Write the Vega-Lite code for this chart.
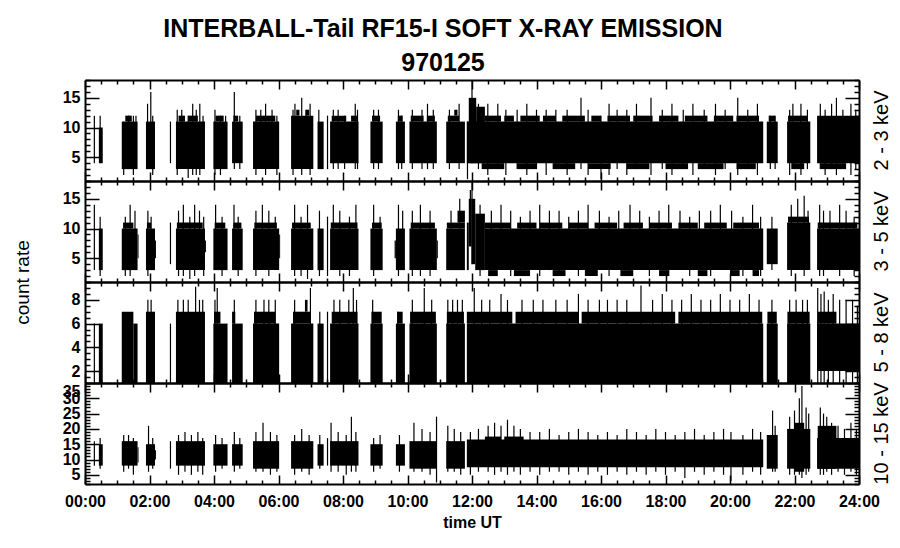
{
"$schema":"https://vega.github.io/schema/vega-lite/v6.json",
"background":"white",
"padding":{"left":13,"top":17,"right":5,"bottom":5},
"title":{"text":["INTERBALL-Tail RF15-I SOFT X-RAY EMISSION","970125"],"font":"Liberation Sans","fontSize":25,"fontWeight":"bold","color":"black","lineHeight":34,"anchor":"middle","frame":"bounds","offset":3,"dx":-9},
"datasets":{
"rects":[
{"p":1,"a":0.43,"b":0.55,"lo":4,"hi":10},
{"p":1,"a":1.14,"b":1.63,"lo":3,"hi":11},
{"p":1,"a":1.25,"b":1.45,"lo":11,"hi":12},
{"p":1,"a":1.89,"b":2.17,"lo":3,"hi":11},
{"p":1,"a":2.82,"b":3.72,"lo":3,"hi":11},
{"p":1,"a":2.9,"b":3.1,"lo":11,"hi":12},
{"p":1,"a":3.2,"b":3.5,"lo":11,"hi":12},
{"p":1,"a":3.98,"b":4.42,"lo":3,"hi":11},
{"p":1,"a":4.05,"b":4.3,"lo":11,"hi":12},
{"p":1,"a":4.56,"b":4.89,"lo":4,"hi":11},
{"p":1,"a":4.6,"b":4.75,"lo":11,"hi":12},
{"p":1,"a":5.21,"b":6.02,"lo":3,"hi":11},
{"p":1,"a":5.3,"b":5.9,"lo":11,"hi":12},
{"p":1,"a":6.39,"b":7.08,"lo":3,"hi":12},
{"p":1,"a":6.55,"b":6.65,"lo":12,"hi":13},
{"p":1,"a":6.85,"b":6.95,"lo":12,"hi":13},
{"p":1,"a":7.21,"b":7.4,"lo":3,"hi":11},
{"p":1,"a":7.6,"b":8.48,"lo":4,"hi":11},
{"p":1,"a":7.65,"b":8.1,"lo":11,"hi":12},
{"p":1,"a":8.25,"b":8.45,"lo":11,"hi":12},
{"p":1,"a":8.85,"b":9.23,"lo":4,"hi":11},
{"p":1,"a":8.9,"b":9.15,"lo":11,"hi":12},
{"p":1,"a":9.64,"b":9.92,"lo":4,"hi":11},
{"p":1,"a":9.7,"b":9.85,"lo":11,"hi":12},
{"p":1,"a":10.06,"b":10.91,"lo":4,"hi":11},
{"p":1,"a":10.1,"b":10.5,"lo":11,"hi":12},
{"p":1,"a":10.6,"b":10.85,"lo":11,"hi":12},
{"p":1,"a":11.2,"b":11.78,"lo":4,"hi":11},
{"p":1,"a":11.25,"b":11.6,"lo":11,"hi":12},
{"p":1,"a":11.45,"b":11.55,"lo":12,"hi":13},
{"p":1,"a":11.84,"b":21.03,"lo":4,"hi":11},
{"p":1,"a":11.9,"b":12.13,"lo":4,"hi":15},
{"p":1,"a":12.13,"b":12.4,"lo":4,"hi":13.5},
{"p":1,"a":12.4,"b":12.9,"lo":11,"hi":12},
{"p":1,"a":13.0,"b":13.3,"lo":11,"hi":12},
{"p":1,"a":13.5,"b":14.1,"lo":11,"hi":12},
{"p":1,"a":14.2,"b":14.6,"lo":11,"hi":12},
{"p":1,"a":14.8,"b":15.5,"lo":11,"hi":12},
{"p":1,"a":15.7,"b":16.0,"lo":11,"hi":12},
{"p":1,"a":16.2,"b":16.9,"lo":11,"hi":12},
{"p":1,"a":17.0,"b":17.6,"lo":11,"hi":12},
{"p":1,"a":17.8,"b":18.4,"lo":11,"hi":12},
{"p":1,"a":18.6,"b":19.3,"lo":11,"hi":12},
{"p":1,"a":19.5,"b":20.1,"lo":11,"hi":12},
{"p":1,"a":20.2,"b":20.9,"lo":11,"hi":12},
{"p":1,"a":12.3,"b":13.0,"lo":3,"hi":4},
{"p":1,"a":13.4,"b":14.0,"lo":3,"hi":4},
{"p":1,"a":14.5,"b":15.2,"lo":3,"hi":4},
{"p":1,"a":15.6,"b":16.3,"lo":3,"hi":4},
{"p":1,"a":16.8,"b":17.5,"lo":3,"hi":4},
{"p":1,"a":18.0,"b":18.7,"lo":3,"hi":4},
{"p":1,"a":19.0,"b":19.8,"lo":3,"hi":4},
{"p":1,"a":20.2,"b":20.8,"lo":3,"hi":4},
{"p":1,"a":21.14,"b":21.48,"lo":4,"hi":11},
{"p":1,"a":21.2,"b":21.4,"lo":11,"hi":12},
{"p":1,"a":21.77,"b":22.49,"lo":4,"hi":11},
{"p":1,"a":21.8,"b":22.4,"lo":11,"hi":12},
{"p":1,"a":21.9,"b":22.3,"lo":3,"hi":4},
{"p":1,"a":22.7,"b":24,"lo":4,"hi":12},
{"p":1,"a":22.8,"b":23.6,"lo":3,"hi":4},

{"p":2,"a":0.43,"b":0.55,"lo":3,"hi":10},
{"p":2,"a":1.14,"b":1.63,"lo":3,"hi":10},
{"p":2,"a":1.18,"b":1.5,"lo":10,"hi":11},
{"p":2,"a":1.63,"b":1.66,"lo":5,"hi":9},
{"p":2,"a":1.89,"b":2.17,"lo":3,"hi":10},
{"p":2,"a":1.92,"b":2.05,"lo":10,"hi":11},
{"p":2,"a":2.17,"b":2.2,"lo":5,"hi":8},
{"p":2,"a":2.82,"b":3.72,"lo":3,"hi":10},
{"p":2,"a":2.85,"b":3.65,"lo":10,"hi":11},
{"p":2,"a":3.72,"b":3.75,"lo":6,"hi":8},
{"p":2,"a":3.98,"b":4.42,"lo":3,"hi":10},
{"p":2,"a":4.02,"b":4.35,"lo":10,"hi":11},
{"p":2,"a":4.56,"b":4.89,"lo":3,"hi":10},
{"p":2,"a":4.6,"b":4.85,"lo":10,"hi":11},
{"p":2,"a":5.21,"b":6.02,"lo":3,"hi":10},
{"p":2,"a":5.25,"b":5.95,"lo":10,"hi":11},
{"p":2,"a":6.02,"b":6.05,"lo":5,"hi":9},
{"p":2,"a":6.39,"b":7.08,"lo":3,"hi":10},
{"p":2,"a":6.42,"b":7.0,"lo":10,"hi":11},
{"p":2,"a":7.21,"b":7.4,"lo":3,"hi":10},
{"p":2,"a":7.6,"b":8.48,"lo":3,"hi":10},
{"p":2,"a":7.62,"b":8.45,"lo":10,"hi":11},
{"p":2,"a":8.85,"b":9.23,"lo":3,"hi":10},
{"p":2,"a":8.9,"b":9.2,"lo":10,"hi":11},
{"p":2,"a":9.6,"b":9.64,"lo":5,"hi":8},
{"p":2,"a":9.64,"b":9.92,"lo":3,"hi":10},
{"p":2,"a":10.06,"b":10.91,"lo":3,"hi":10},
{"p":2,"a":10.1,"b":10.85,"lo":10,"hi":11},
{"p":2,"a":10.91,"b":10.94,"lo":5,"hi":8},
{"p":2,"a":11.2,"b":11.78,"lo":3,"hi":10},
{"p":2,"a":11.22,"b":11.78,"lo":10,"hi":11},
{"p":2,"a":11.55,"b":11.78,"lo":11,"hi":13},
{"p":2,"a":11.84,"b":11.9,"lo":3,"hi":11},
{"p":2,"a":11.9,"b":11.99,"lo":7,"hi":15},
{"p":2,"a":11.99,"b":12.1,"lo":4,"hi":15},
{"p":2,"a":12.1,"b":12.4,"lo":3,"hi":12.5},
{"p":2,"a":12.4,"b":21.03,"lo":3,"hi":10},
{"p":2,"a":12.4,"b":13.2,"lo":10,"hi":11},
{"p":2,"a":13.4,"b":14.0,"lo":10,"hi":11},
{"p":2,"a":14.1,"b":14.8,"lo":10,"hi":11},
{"p":2,"a":15.0,"b":15.6,"lo":10,"hi":11},
{"p":2,"a":15.8,"b":16.5,"lo":10,"hi":11},
{"p":2,"a":16.7,"b":17.3,"lo":10,"hi":11},
{"p":2,"a":17.5,"b":18.2,"lo":10,"hi":11},
{"p":2,"a":18.4,"b":19.0,"lo":10,"hi":11},
{"p":2,"a":19.2,"b":19.9,"lo":10,"hi":11},
{"p":2,"a":20.1,"b":20.9,"lo":10,"hi":11},
{"p":2,"a":12.5,"b":12.8,"lo":2,"hi":3},
{"p":2,"a":13.3,"b":13.8,"lo":2,"hi":3},
{"p":2,"a":14.5,"b":14.9,"lo":2,"hi":3},
{"p":2,"a":15.5,"b":15.9,"lo":2,"hi":3},
{"p":2,"a":16.6,"b":17.0,"lo":2,"hi":3},
{"p":2,"a":17.8,"b":18.1,"lo":2,"hi":3},
{"p":2,"a":19.0,"b":19.3,"lo":2,"hi":3},
{"p":2,"a":20.0,"b":20.3,"lo":2,"hi":3},
{"p":2,"a":20.7,"b":20.9,"lo":2,"hi":3},
{"p":2,"a":21.14,"b":21.48,"lo":4,"hi":10},
{"p":2,"a":21.77,"b":22.49,"lo":3,"hi":11},
{"p":2,"a":21.8,"b":22.45,"lo":11,"hi":12},
{"p":2,"a":22.7,"b":24,"lo":3,"hi":10},
{"p":2,"a":22.72,"b":23.95,"lo":10,"hi":11},

{"p":3,"a":0.43,"b":0.55,"lo":1,"hi":6},
{"p":3,"a":1.14,"b":1.5,"lo":1,"hi":7},
{"p":3,"a":1.5,"b":1.63,"lo":1,"hi":6},
{"p":3,"a":1.89,"b":2.17,"lo":1,"hi":7},
{"p":3,"a":2.82,"b":3.72,"lo":1,"hi":7},
{"p":3,"a":3.98,"b":4.42,"lo":1,"hi":6},
{"p":3,"a":4.0,"b":4.2,"lo":6,"hi":7},
{"p":3,"a":4.56,"b":4.89,"lo":1,"hi":6},
{"p":3,"a":4.56,"b":4.66,"lo":6,"hi":7},
{"p":3,"a":5.21,"b":6.02,"lo":1,"hi":6},
{"p":3,"a":5.24,"b":5.9,"lo":6,"hi":7},
{"p":3,"a":6.39,"b":7.08,"lo":1,"hi":6},
{"p":3,"a":6.45,"b":7.0,"lo":6,"hi":7},
{"p":3,"a":6.82,"b":6.9,"lo":7,"hi":8},
{"p":3,"a":7.21,"b":7.4,"lo":1,"hi":6},
{"p":3,"a":7.6,"b":8.48,"lo":1,"hi":6},
{"p":3,"a":7.65,"b":8.45,"lo":6,"hi":7},
{"p":3,"a":8.85,"b":9.23,"lo":1,"hi":6},
{"p":3,"a":8.88,"b":9.2,"lo":6,"hi":7},
{"p":3,"a":9.64,"b":9.92,"lo":1,"hi":6},
{"p":3,"a":9.68,"b":9.85,"lo":6,"hi":7},
{"p":3,"a":10.06,"b":10.91,"lo":1,"hi":6},
{"p":3,"a":10.08,"b":10.88,"lo":6,"hi":7},
{"p":3,"a":11.2,"b":11.78,"lo":1,"hi":6},
{"p":3,"a":11.22,"b":11.75,"lo":6,"hi":7},
{"p":3,"a":11.84,"b":21.03,"lo":1,"hi":6},
{"p":3,"a":11.84,"b":13.25,"lo":6,"hi":7},
{"p":3,"a":13.35,"b":15.3,"lo":6,"hi":7},
{"p":3,"a":15.4,"b":18.3,"lo":6,"hi":7},
{"p":3,"a":18.4,"b":21.0,"lo":6,"hi":7},
{"p":3,"a":21.14,"b":21.48,"lo":1,"hi":6},
{"p":3,"a":21.16,"b":21.45,"lo":6,"hi":7},
{"p":3,"a":21.77,"b":22.49,"lo":1,"hi":6},
{"p":3,"a":21.78,"b":22.47,"lo":6,"hi":7},
{"p":3,"a":22.7,"b":24,"lo":2,"hi":6},
{"p":3,"a":22.72,"b":23.3,"lo":6,"hi":7},

{"p":4,"a":0.43,"b":0.55,"lo":8,"hi":15},
{"p":4,"a":1.14,"b":1.63,"lo":8,"hi":16},
{"p":4,"a":1.63,"b":1.66,"lo":9,"hi":14},
{"p":4,"a":1.89,"b":2.17,"lo":8,"hi":15},
{"p":4,"a":2.17,"b":2.2,"lo":10,"hi":13},
{"p":4,"a":2.82,"b":3.72,"lo":8,"hi":16},
{"p":4,"a":3.98,"b":4.42,"lo":8,"hi":15},
{"p":4,"a":4.56,"b":4.89,"lo":8,"hi":15},
{"p":4,"a":5.21,"b":6.02,"lo":7,"hi":16},
{"p":4,"a":6.39,"b":7.08,"lo":7,"hi":16},
{"p":4,"a":7.21,"b":7.4,"lo":8,"hi":15},
{"p":4,"a":7.6,"b":8.48,"lo":8,"hi":16},
{"p":4,"a":8.85,"b":9.23,"lo":8,"hi":15},
{"p":4,"a":9.64,"b":9.92,"lo":8,"hi":15},
{"p":4,"a":10.06,"b":10.91,"lo":7,"hi":16},
{"p":4,"a":11.2,"b":11.78,"lo":7,"hi":16},
{"p":4,"a":11.84,"b":21.03,"lo":7.5,"hi":16.5},
{"p":4,"a":12.4,"b":12.9,"lo":16,"hi":17.5},
{"p":4,"a":13.0,"b":13.6,"lo":16,"hi":17.5},
{"p":4,"a":21.14,"b":21.48,"lo":7,"hi":18},
{"p":4,"a":21.77,"b":22.49,"lo":7,"hi":20},
{"p":4,"a":22.0,"b":22.3,"lo":6,"hi":22},
{"p":4,"a":22.7,"b":24,"lo":7,"hi":17},
{"p":4,"a":22.72,"b":23.3,"lo":7,"hi":21}
],
"spikes":[
{"p":1,"t":0.02,"lo":5,"hi":12},{"p":1,"t":0.29,"lo":4,"hi":12},{"p":1,"t":0.47,"lo":4,"hi":12},
{"p":1,"t":1.2,"lo":2,"hi":11},{"p":1,"t":1.35,"lo":3,"hi":12},{"p":1,"t":1.5,"lo":2,"hi":12},{"p":1,"t":1.58,"lo":3,"hi":12},
{"p":1,"t":1.94,"lo":3,"hi":14},{"p":1,"t":2.04,"lo":3,"hi":16},{"p":1,"t":2.1,"lo":2,"hi":12},
{"p":1,"t":2.65,"lo":4,"hi":11},
{"p":1,"t":2.86,"lo":2,"hi":13},{"p":1,"t":3.0,"lo":3,"hi":13},{"p":1,"t":3.2,"lo":1.5,"hi":12},{"p":1,"t":3.34,"lo":2,"hi":14},{"p":1,"t":3.45,"lo":2,"hi":13},{"p":1,"t":3.56,"lo":2,"hi":14},{"p":1,"t":3.66,"lo":3,"hi":12},
{"p":1,"t":4.03,"lo":2,"hi":13},{"p":1,"t":4.2,"lo":2,"hi":12},{"p":1,"t":4.36,"lo":3,"hi":12},
{"p":1,"t":4.63,"lo":3,"hi":16},{"p":1,"t":4.8,"lo":3,"hi":12},
{"p":1,"t":5.3,"lo":2,"hi":13},{"p":1,"t":5.45,"lo":3,"hi":13},{"p":1,"t":5.6,"lo":2,"hi":14},{"p":1,"t":5.8,"lo":3,"hi":13},{"p":1,"t":5.95,"lo":2,"hi":12},
{"p":1,"t":6.45,"lo":2,"hi":13},{"p":1,"t":6.51,"lo":3,"hi":14},{"p":1,"t":6.72,"lo":2,"hi":15},{"p":1,"t":6.85,"lo":3,"hi":13},{"p":1,"t":6.98,"lo":2,"hi":14},
{"p":1,"t":7.25,"lo":3,"hi":13},{"p":1,"t":7.52,"lo":3,"hi":12},
{"p":1,"t":7.7,"lo":3,"hi":13},{"p":1,"t":7.85,"lo":3,"hi":13},{"p":1,"t":8.05,"lo":3,"hi":12},{"p":1,"t":8.38,"lo":3,"hi":14},{"p":1,"t":8.45,"lo":3,"hi":13},
{"p":1,"t":8.95,"lo":3,"hi":13},{"p":1,"t":9.1,"lo":3,"hi":13},
{"p":1,"t":9.72,"lo":3,"hi":13},{"p":1,"t":9.82,"lo":3,"hi":12},
{"p":1,"t":10.15,"lo":3,"hi":13},{"p":1,"t":10.45,"lo":3,"hi":13},{"p":1,"t":10.62,"lo":3,"hi":14},{"p":1,"t":10.8,"lo":3,"hi":13},
{"p":1,"t":11.3,"lo":3,"hi":13},{"p":1,"t":11.6,"lo":3,"hi":14},
{"p":1,"t":11.86,"lo":1.3,"hi":11},{"p":1,"t":12.0,"lo":4,"hi":18},{"p":1,"t":12.2,"lo":3,"hi":14},{"p":1,"t":12.49,"lo":2,"hi":14},{"p":1,"t":12.8,"lo":3,"hi":14},
{"p":1,"t":13.05,"lo":2,"hi":13},{"p":1,"t":13.4,"lo":3,"hi":13},{"p":1,"t":13.7,"lo":2,"hi":14},{"p":1,"t":14.0,"lo":3,"hi":13},{"p":1,"t":14.3,"lo":2,"hi":13},
{"p":1,"t":14.6,"lo":3,"hi":13},{"p":1,"t":14.95,"lo":2,"hi":13},{"p":1,"t":15.38,"lo":3,"hi":15},{"p":1,"t":15.6,"lo":2,"hi":13},{"p":1,"t":16.0,"lo":1.3,"hi":12},
{"p":1,"t":16.25,"lo":2,"hi":14},{"p":1,"t":16.5,"lo":3,"hi":13},{"p":1,"t":16.8,"lo":2,"hi":13},{"p":1,"t":17.1,"lo":3,"hi":14},{"p":1,"t":17.55,"lo":2,"hi":15},
{"p":1,"t":17.9,"lo":3,"hi":13},{"p":1,"t":18.2,"lo":2,"hi":14},{"p":1,"t":18.55,"lo":3,"hi":13},{"p":1,"t":18.85,"lo":2,"hi":14},{"p":1,"t":19.2,"lo":3,"hi":13},
{"p":1,"t":19.55,"lo":2,"hi":14},{"p":1,"t":19.85,"lo":3,"hi":13},{"p":1,"t":20.24,"lo":2,"hi":15},{"p":1,"t":20.55,"lo":3,"hi":13},{"p":1,"t":20.85,"lo":2,"hi":14},
{"p":1,"t":21.25,"lo":3,"hi":12},{"p":1,"t":21.4,"lo":3,"hi":12},
{"p":1,"t":21.85,"lo":2,"hi":13},{"p":1,"t":21.95,"lo":3,"hi":14},{"p":1,"t":22.2,"lo":2,"hi":14},{"p":1,"t":22.4,"lo":3,"hi":13},
{"p":1,"t":22.8,"lo":3,"hi":14},{"p":1,"t":22.95,"lo":2,"hi":13},{"p":1,"t":23.15,"lo":3,"hi":14},{"p":1,"t":23.3,"lo":2,"hi":15},{"p":1,"t":23.5,"lo":3,"hi":13},{"p":1,"t":23.75,"lo":2,"hi":14},{"p":1,"t":23.9,"lo":3,"hi":13},

{"p":2,"t":0.02,"lo":5,"hi":11},{"p":2,"t":0.29,"lo":3,"hi":14},{"p":2,"t":0.47,"lo":2,"hi":12},
{"p":2,"t":1.25,"lo":2,"hi":12},{"p":2,"t":1.4,"lo":2,"hi":14},{"p":2,"t":1.55,"lo":3,"hi":13},
{"p":2,"t":1.95,"lo":2,"hi":13},{"p":2,"t":2.05,"lo":3,"hi":12},
{"p":2,"t":2.65,"lo":4,"hi":11},
{"p":2,"t":2.9,"lo":2,"hi":13},{"p":2,"t":3.05,"lo":2,"hi":14},{"p":2,"t":3.25,"lo":1.5,"hi":12},{"p":2,"t":3.4,"lo":2,"hi":14},{"p":2,"t":3.55,"lo":3,"hi":13},{"p":2,"t":3.68,"lo":2,"hi":12},
{"p":2,"t":4.05,"lo":3,"hi":14},{"p":2,"t":4.25,"lo":2,"hi":12},
{"p":2,"t":4.62,"lo":3,"hi":14},{"p":2,"t":4.75,"lo":2,"hi":12},
{"p":2,"t":5.3,"lo":2,"hi":13},{"p":2,"t":5.5,"lo":3,"hi":14},{"p":2,"t":5.7,"lo":2,"hi":13},{"p":2,"t":5.9,"lo":3,"hi":12},
{"p":2,"t":6.5,"lo":2,"hi":14},{"p":2,"t":6.7,"lo":2,"hi":12},{"p":2,"t":6.9,"lo":1.5,"hi":14},
{"p":2,"t":7.27,"lo":2,"hi":13},{"p":2,"t":7.52,"lo":2,"hi":12},
{"p":2,"t":7.7,"lo":3,"hi":14},{"p":2,"t":7.9,"lo":2,"hi":13},{"p":2,"t":8.2,"lo":2,"hi":12},{"p":2,"t":8.4,"lo":3,"hi":14},
{"p":2,"t":8.95,"lo":2,"hi":14},{"p":2,"t":9.15,"lo":3,"hi":12},
{"p":2,"t":9.72,"lo":2,"hi":14},{"p":2,"t":9.85,"lo":3,"hi":13},
{"p":2,"t":10.15,"lo":2,"hi":13},{"p":2,"t":10.4,"lo":2,"hi":14},{"p":2,"t":10.7,"lo":2,"hi":13},
{"p":2,"t":11.35,"lo":3,"hi":13},{"p":2,"t":11.62,"lo":3,"hi":15},
{"p":2,"t":11.95,"lo":7,"hi":16.5},{"p":2,"t":12.0,"lo":4,"hi":18},{"p":2,"t":12.25,"lo":2,"hi":14},{"p":2,"t":12.6,"lo":2,"hi":13},{"p":2,"t":12.9,"lo":3,"hi":14},
{"p":2,"t":13.2,"lo":2,"hi":13},{"p":2,"t":13.5,"lo":2,"hi":12},{"p":2,"t":13.8,"lo":3,"hi":13},{"p":2,"t":14.1,"lo":2,"hi":14},{"p":2,"t":14.4,"lo":3,"hi":13},
{"p":2,"t":14.7,"lo":2,"hi":13},{"p":2,"t":15.0,"lo":3,"hi":12},{"p":2,"t":15.3,"lo":2,"hi":13},{"p":2,"t":15.6,"lo":2,"hi":14},{"p":2,"t":15.95,"lo":3,"hi":13},
{"p":2,"t":16.25,"lo":2,"hi":12},{"p":2,"t":16.55,"lo":3,"hi":13},{"p":2,"t":16.9,"lo":2,"hi":14},{"p":2,"t":17.2,"lo":3,"hi":13},{"p":2,"t":17.5,"lo":2,"hi":12},
{"p":2,"t":17.8,"lo":3,"hi":13},{"p":2,"t":18.1,"lo":2,"hi":14},{"p":2,"t":18.45,"lo":3,"hi":13},{"p":2,"t":18.75,"lo":2,"hi":12},{"p":2,"t":19.05,"lo":3,"hi":13},
{"p":2,"t":19.4,"lo":2,"hi":13},{"p":2,"t":19.7,"lo":3,"hi":14},{"p":2,"t":20.05,"lo":2,"hi":13},{"p":2,"t":20.4,"lo":2,"hi":12},{"p":2,"t":20.7,"lo":3,"hi":14},{"p":2,"t":20.95,"lo":2,"hi":12},
{"p":2,"t":21.3,"lo":3,"hi":12},
{"p":2,"t":21.9,"lo":2,"hi":14},{"p":2,"t":22.1,"lo":3,"hi":15},{"p":2,"t":22.3,"lo":2,"hi":15.5},{"p":2,"t":22.42,"lo":3,"hi":13},
{"p":2,"t":22.78,"lo":2,"hi":14},{"p":2,"t":22.9,"lo":2,"hi":13},{"p":2,"t":23.1,"lo":3,"hi":13},{"p":2,"t":23.4,"lo":2,"hi":14},{"p":2,"t":23.6,"lo":3,"hi":13},{"p":2,"t":23.85,"lo":2,"hi":12},

{"p":3,"t":0.02,"lo":1,"hi":6},{"p":3,"t":0.29,"lo":1,"hi":6},
{"p":3,"t":1.95,"lo":1,"hi":8},{"p":3,"t":2.05,"lo":1,"hi":8},{"p":3,"t":2.65,"lo":1,"hi":6},
{"p":3,"t":2.88,"lo":1,"hi":8},{"p":3,"t":3.05,"lo":1,"hi":8},{"p":3,"t":3.2,"lo":1,"hi":8},{"p":3,"t":3.43,"lo":1,"hi":9.1},{"p":3,"t":3.55,"lo":1,"hi":8},{"p":3,"t":3.65,"lo":1,"hi":8},
{"p":3,"t":4.03,"lo":1,"hi":8},{"p":3,"t":4.1,"lo":1,"hi":9},{"p":3,"t":4.63,"lo":1,"hi":8},
{"p":3,"t":5.3,"lo":1,"hi":8},{"p":3,"t":5.55,"lo":1,"hi":8},{"p":3,"t":5.7,"lo":1,"hi":8},{"p":3,"t":5.9,"lo":1,"hi":8},
{"p":3,"t":6.5,"lo":1,"hi":8},{"p":3,"t":6.99,"lo":1,"hi":9},
{"p":3,"t":7.28,"lo":1,"hi":7},{"p":3,"t":7.52,"lo":1,"hi":7},
{"p":3,"t":7.72,"lo":1,"hi":8},{"p":3,"t":7.9,"lo":1,"hi":8},{"p":3,"t":8.18,"lo":1,"hi":8},{"p":3,"t":8.32,"lo":1,"hi":9},{"p":3,"t":8.42,"lo":1,"hi":8},
{"p":3,"t":8.92,"lo":1,"hi":8},{"p":3,"t":9.7,"lo":1,"hi":7},
{"p":3,"t":10.15,"lo":1,"hi":8},{"p":3,"t":10.52,"lo":1,"hi":9},{"p":3,"t":10.75,"lo":1,"hi":8},
{"p":3,"t":11.25,"lo":1,"hi":8},{"p":3,"t":11.4,"lo":1,"hi":8},{"p":3,"t":11.55,"lo":1,"hi":8},{"p":3,"t":11.7,"lo":1,"hi":8},
{"p":3,"t":12.07,"lo":1,"hi":9},{"p":3,"t":12.3,"lo":1,"hi":8},{"p":3,"t":12.55,"lo":1,"hi":8},{"p":3,"t":12.9,"lo":1,"hi":8.5},{"p":3,"t":13.1,"lo":1,"hi":8},
{"p":3,"t":13.55,"lo":1,"hi":8},{"p":3,"t":13.9,"lo":1,"hi":8},{"p":3,"t":14.2,"lo":1,"hi":8},{"p":3,"t":14.6,"lo":1,"hi":8},{"p":3,"t":14.95,"lo":1,"hi":8},
{"p":3,"t":15.3,"lo":1,"hi":8.5},{"p":3,"t":15.6,"lo":1,"hi":8},{"p":3,"t":15.95,"lo":1,"hi":8},{"p":3,"t":16.2,"lo":1,"hi":8},{"p":3,"t":16.5,"lo":1,"hi":8},
{"p":3,"t":16.8,"lo":1,"hi":8},{"p":3,"t":17.24,"lo":1,"hi":9.2},{"p":3,"t":17.6,"lo":1,"hi":8},{"p":3,"t":17.9,"lo":1,"hi":8.5},{"p":3,"t":18.2,"lo":1,"hi":8},
{"p":3,"t":18.5,"lo":1,"hi":8},{"p":3,"t":18.8,"lo":1,"hi":8.5},{"p":3,"t":19.1,"lo":1,"hi":8},{"p":3,"t":19.4,"lo":1,"hi":8},{"p":3,"t":19.7,"lo":1,"hi":8.5},
{"p":3,"t":20.0,"lo":1,"hi":8},{"p":3,"t":20.3,"lo":1,"hi":8},{"p":3,"t":20.6,"lo":1,"hi":8.5},{"p":3,"t":20.9,"lo":1,"hi":8},
{"p":3,"t":21.3,"lo":1,"hi":8},
{"p":3,"t":21.85,"lo":1,"hi":8},{"p":3,"t":22.05,"lo":1,"hi":8},{"p":3,"t":22.25,"lo":1,"hi":8},{"p":3,"t":22.4,"lo":1,"hi":8},
{"p":3,"t":22.72,"lo":1,"hi":9},{"p":3,"t":22.82,"lo":1,"hi":8.5},{"p":3,"t":22.92,"lo":1,"hi":8.7},{"p":3,"t":23.05,"lo":1,"hi":8},{"p":3,"t":23.2,"lo":1,"hi":8.5},
{"p":3,"t":23.4,"lo":1,"hi":8},{"p":3,"t":23.6,"lo":1,"hi":8},{"p":3,"t":23.8,"lo":1,"hi":8},{"p":3,"t":23.95,"lo":1,"hi":7.5},

{"p":4,"t":0.02,"lo":9,"hi":16},{"p":4,"t":0.29,"lo":8,"hi":16},{"p":4,"t":0.47,"lo":7,"hi":17},
{"p":4,"t":1.2,"lo":6,"hi":18},{"p":4,"t":1.35,"lo":7,"hi":18},{"p":4,"t":1.5,"lo":5,"hi":17},
{"p":4,"t":1.97,"lo":6,"hi":21},{"p":4,"t":2.1,"lo":7,"hi":17},{"p":4,"t":2.65,"lo":7,"hi":16},
{"p":4,"t":2.9,"lo":5,"hi":18},{"p":4,"t":3.1,"lo":6,"hi":19},{"p":4,"t":3.3,"lo":5,"hi":18},{"p":4,"t":3.5,"lo":6,"hi":19},{"p":4,"t":3.65,"lo":5,"hi":17},
{"p":4,"t":4.05,"lo":6,"hi":18},{"p":4,"t":4.25,"lo":7,"hi":17},
{"p":4,"t":4.63,"lo":6,"hi":19},{"p":4,"t":4.8,"lo":7,"hi":17},
{"p":4,"t":5.3,"lo":6,"hi":19},{"p":4,"t":5.52,"lo":6,"hi":22},{"p":4,"t":5.75,"lo":5,"hi":19},{"p":4,"t":5.95,"lo":6,"hi":18},
{"p":4,"t":6.5,"lo":5,"hi":18},{"p":4,"t":6.72,"lo":6,"hi":20},{"p":4,"t":6.95,"lo":5,"hi":18},
{"p":4,"t":7.28,"lo":7,"hi":18},{"p":4,"t":7.52,"lo":8,"hi":17},
{"p":4,"t":7.63,"lo":6,"hi":22},{"p":4,"t":7.85,"lo":6,"hi":19},{"p":4,"t":8.1,"lo":5,"hi":18},{"p":4,"t":8.26,"lo":6,"hi":24},{"p":4,"t":8.4,"lo":6,"hi":19},
{"p":4,"t":8.95,"lo":6,"hi":17},{"p":4,"t":9.15,"lo":7,"hi":18},{"p":4,"t":9.75,"lo":6,"hi":18},
{"p":4,"t":10.2,"lo":6,"hi":22},{"p":4,"t":10.45,"lo":6,"hi":20},{"p":4,"t":10.7,"lo":5,"hi":19},{"p":4,"t":10.9,"lo":2.5,"hi":24},
{"p":4,"t":11.25,"lo":6,"hi":21},{"p":4,"t":11.45,"lo":6,"hi":20},{"p":4,"t":11.65,"lo":5,"hi":19},
{"p":4,"t":11.95,"lo":5,"hi":19},{"p":4,"t":12.2,"lo":6,"hi":20},{"p":4,"t":12.5,"lo":6,"hi":21},{"p":4,"t":12.7,"lo":5,"hi":22},{"p":4,"t":12.9,"lo":6,"hi":21},
{"p":4,"t":13.1,"lo":5,"hi":23},{"p":4,"t":13.3,"lo":6,"hi":21},{"p":4,"t":13.5,"lo":5,"hi":20},{"p":4,"t":13.8,"lo":6,"hi":19},{"p":4,"t":14.1,"lo":5,"hi":19},
{"p":4,"t":14.4,"lo":6,"hi":20},{"p":4,"t":14.7,"lo":6,"hi":18},{"p":4,"t":15.0,"lo":5,"hi":19},{"p":4,"t":15.3,"lo":6,"hi":20},{"p":4,"t":15.6,"lo":5,"hi":19},
{"p":4,"t":15.9,"lo":6,"hi":18},{"p":4,"t":16.2,"lo":5,"hi":19},{"p":4,"t":16.5,"lo":6,"hi":18},{"p":4,"t":16.8,"lo":5,"hi":20},{"p":4,"t":17.1,"lo":6,"hi":19},
{"p":4,"t":17.4,"lo":5,"hi":18},{"p":4,"t":17.7,"lo":6,"hi":20},{"p":4,"t":18.0,"lo":5,"hi":19},{"p":4,"t":18.3,"lo":6,"hi":18},{"p":4,"t":18.6,"lo":4,"hi":19},
{"p":4,"t":18.9,"lo":6,"hi":20},{"p":4,"t":19.2,"lo":5,"hi":18},{"p":4,"t":19.5,"lo":6,"hi":19},{"p":4,"t":19.8,"lo":5,"hi":20},{"p":4,"t":20.03,"lo":3,"hi":19},
{"p":4,"t":20.4,"lo":5,"hi":18},{"p":4,"t":20.7,"lo":6,"hi":20},{"p":4,"t":20.95,"lo":5,"hi":19},
{"p":4,"t":21.32,"lo":6,"hi":26},{"p":4,"t":21.4,"lo":6,"hi":21},
{"p":4,"t":21.85,"lo":5,"hi":24},{"p":4,"t":22.0,"lo":5,"hi":26},{"p":4,"t":22.15,"lo":5,"hi":30},{"p":4,"t":22.23,"lo":4,"hi":34},{"p":4,"t":22.36,"lo":5,"hi":27},{"p":4,"t":22.44,"lo":6,"hi":25},
{"p":4,"t":22.8,"lo":5,"hi":27},{"p":4,"t":22.9,"lo":5,"hi":25},{"p":4,"t":23.0,"lo":6,"hi":24},{"p":4,"t":23.15,"lo":5,"hi":22},{"p":4,"t":23.35,"lo":6,"hi":21},
{"p":4,"t":23.55,"lo":5,"hi":20},{"p":4,"t":23.75,"lo":6,"hi":22},{"p":4,"t":23.92,"lo":5,"hi":20}
]
},
"vconcat":[
{"width":774,"height":101,
 "layer":[
  {"data":{"name":"rects"},"transform":[{"filter":"datum.p==1"}],"mark":{"type":"rect","color":"black"},
   "encoding":{
    "x":{"field":"a","type":"quantitative","scale":{"domain":[0,24],"nice":false,"zero":false},"axis":{"orient":"bottom","values":[0,0.5,1,1.5,2,2.5,3,3.5,4,4.5,5,5.5,6,6.5,7,7.5,8,8.5,9,9.5,10,10.5,11,11.5,12,12.5,13,13.5,14,14.5,15,15.5,16,16.5,17,17.5,18,18.5,19,19.5,20,20.5,21,21.5,22,22.5,23,23.5,24],"labels":false,"title":null,"tickSize":{"condition":{"test":"datum.value % 2 === 0","value":-9},"value":-4}}},
    "x2":{"field":"b"},
    "y":{"field":"lo","type":"quantitative","scale":{"domain":[1,18],"nice":false,"zero":false},"axis":{"orient":"left","values":[1,2,3,4,5,6,7,8,9,10,11,12,13,14,15,16,17,18],"labelExpr":"datum.value % 5 === 0 ? '' + datum.value : ''","labelPadding":19,"title":null,"tickSize":{"condition":{"test":"datum.value % 5 === 0","value":-14},"value":-5}}},
    "y2":{"field":"hi"}}},
  {"data":{"name":"spikes"},"transform":[{"filter":"datum.p==1"}],"mark":{"type":"rule","color":"black","strokeWidth":1.2},
   "encoding":{
    "x":{"field":"t","type":"quantitative","scale":{"domain":[0,24],"nice":false,"zero":false},"axis":{"orient":"top","values":[0,0.5,1,1.5,2,2.5,3,3.5,4,4.5,5,5.5,6,6.5,7,7.5,8,8.5,9,9.5,10,10.5,11,11.5,12,12.5,13,13.5,14,14.5,15,15.5,16,16.5,17,17.5,18,18.5,19,19.5,20,20.5,21,21.5,22,22.5,23,23.5,24],"labels":false,"title":null,"tickSize":{"condition":{"test":"datum.value % 2 === 0","value":-9},"value":-4}}},
    "y":{"field":"lo","type":"quantitative","scale":{"domain":[1,18],"nice":false,"zero":false},"axis":{"orient":"right","values":[1,2,3,4,5,6,7,8,9,10,11,12,13,14,15,16,17,18],"labels":false,"title":"2 - 3 keV","titleAngle":270,"titleX":22,"titleY":50,"titleAlign":"center","titleBaseline":"middle","tickSize":{"condition":{"test":"datum.value % 5 === 0","value":-14},"value":-5}}},
    "y2":{"field":"hi"}}}
 ],
 "resolve":{"axis":{"x":"independent","y":"independent"}}
},
{"width":774,"height":101,
 "layer":[
  {"data":{"name":"rects"},"transform":[{"filter":"datum.p==2"}],"mark":{"type":"rect","color":"black"},
   "encoding":{
    "x":{"field":"a","type":"quantitative","scale":{"domain":[0,24],"nice":false,"zero":false},"axis":{"orient":"bottom","values":[0,0.5,1,1.5,2,2.5,3,3.5,4,4.5,5,5.5,6,6.5,7,7.5,8,8.5,9,9.5,10,10.5,11,11.5,12,12.5,13,13.5,14,14.5,15,15.5,16,16.5,17,17.5,18,18.5,19,19.5,20,20.5,21,21.5,22,22.5,23,23.5,24],"labels":false,"title":null,"tickSize":{"condition":{"test":"datum.value % 2 === 0","value":-9},"value":-4}}},
    "x2":{"field":"b"},
    "y":{"field":"lo","type":"quantitative","scale":{"domain":[1,18],"nice":false,"zero":false},"axis":{"orient":"left","values":[1,2,3,4,5,6,7,8,9,10,11,12,13,14,15,16,17,18],"labelExpr":"datum.value % 5 === 0 ? '' + datum.value : ''","labelPadding":19,"title":"count rate","titleFontSize":19,"titleAngle":270,"titleX":-63,"titleY":101,"titleAlign":"center","titleBaseline":"middle","tickSize":{"condition":{"test":"datum.value % 5 === 0","value":-14},"value":-5}}},
    "y2":{"field":"hi"}}},
  {"data":{"name":"spikes"},"transform":[{"filter":"datum.p==2"}],"mark":{"type":"rule","color":"black","strokeWidth":1.2},
   "encoding":{
    "x":{"field":"t","type":"quantitative","scale":{"domain":[0,24],"nice":false,"zero":false},"axis":{"orient":"top","values":[0,0.5,1,1.5,2,2.5,3,3.5,4,4.5,5,5.5,6,6.5,7,7.5,8,8.5,9,9.5,10,10.5,11,11.5,12,12.5,13,13.5,14,14.5,15,15.5,16,16.5,17,17.5,18,18.5,19,19.5,20,20.5,21,21.5,22,22.5,23,23.5,24],"labels":false,"title":null,"tickSize":{"condition":{"test":"datum.value % 2 === 0","value":-9},"value":-4}}},
    "y":{"field":"lo","type":"quantitative","scale":{"domain":[1,18],"nice":false,"zero":false},"axis":{"orient":"right","values":[1,2,3,4,5,6,7,8,9,10,11,12,13,14,15,16,17,18],"labels":false,"title":"3 - 5 keV","titleAngle":270,"titleX":22,"titleY":50,"titleAlign":"center","titleBaseline":"middle","tickSize":{"condition":{"test":"datum.value % 5 === 0","value":-14},"value":-5}}},
    "y2":{"field":"hi"}}}
 ],
 "resolve":{"axis":{"x":"independent","y":"independent"}}
},
{"width":774,"height":101,
 "layer":[
  {"data":{"name":"rects"},"transform":[{"filter":"datum.p==3"}],"mark":{"type":"rect","color":"black"},
   "encoding":{
    "x":{"field":"a","type":"quantitative","scale":{"domain":[0,24],"nice":false,"zero":false},"axis":{"orient":"bottom","values":[0,0.5,1,1.5,2,2.5,3,3.5,4,4.5,5,5.5,6,6.5,7,7.5,8,8.5,9,9.5,10,10.5,11,11.5,12,12.5,13,13.5,14,14.5,15,15.5,16,16.5,17,17.5,18,18.5,19,19.5,20,20.5,21,21.5,22,22.5,23,23.5,24],"labels":false,"title":null,"tickSize":{"condition":{"test":"datum.value % 2 === 0","value":-9},"value":-4}}},
    "x2":{"field":"b"},
    "y":{"field":"lo","type":"quantitative","scale":{"domain":[1,9.5],"nice":false,"zero":false},"axis":{"orient":"left","values":[1,1.5,2,2.5,3,3.5,4,4.5,5,5.5,6,6.5,7,7.5,8,8.5,9,9.5],"labelExpr":"datum.value % 2 === 0 ? '' + datum.value : ''","labelPadding":19,"title":null,"tickSize":{"condition":{"test":"datum.value % 2 === 0","value":-14},"value":-5}}},
    "y2":{"field":"hi"}}},
  {"data":{"name":"spikes"},"transform":[{"filter":"datum.p==3"}],"mark":{"type":"rule","color":"black","strokeWidth":1.2},
   "encoding":{
    "x":{"field":"t","type":"quantitative","scale":{"domain":[0,24],"nice":false,"zero":false},"axis":{"orient":"top","values":[0,0.5,1,1.5,2,2.5,3,3.5,4,4.5,5,5.5,6,6.5,7,7.5,8,8.5,9,9.5,10,10.5,11,11.5,12,12.5,13,13.5,14,14.5,15,15.5,16,16.5,17,17.5,18,18.5,19,19.5,20,20.5,21,21.5,22,22.5,23,23.5,24],"labels":false,"title":null,"tickSize":{"condition":{"test":"datum.value % 2 === 0","value":-9},"value":-4}}},
    "y":{"field":"lo","type":"quantitative","scale":{"domain":[1,9.5],"nice":false,"zero":false},"axis":{"orient":"right","values":[1,1.5,2,2.5,3,3.5,4,4.5,5,5.5,6,6.5,7,7.5,8,8.5,9,9.5],"labels":false,"title":"5 - 8 keV","titleAngle":270,"titleX":22,"titleY":50,"titleAlign":"center","titleBaseline":"middle","tickSize":{"condition":{"test":"datum.value % 2 === 0","value":-14},"value":-5}}},
    "y2":{"field":"hi"}}}
 ],
 "resolve":{"axis":{"x":"independent","y":"independent"}}
},
{"width":774,"height":101,
 "layer":[
  {"data":{"name":"rects"},"transform":[{"filter":"datum.p==4"}],"mark":{"type":"rect","color":"black"},
   "encoding":{
    "x":{"field":"a","type":"quantitative","scale":{"domain":[0,24],"nice":false,"zero":false},"axis":{"orient":"bottom","values":[0,0.5,1,1.5,2,2.5,3,3.5,4,4.5,5,5.5,6,6.5,7,7.5,8,8.5,9,9.5,10,10.5,11,11.5,12,12.5,13,13.5,14,14.5,15,15.5,16,16.5,17,17.5,18,18.5,19,19.5,20,20.5,21,21.5,22,22.5,23,23.5,24],"labelExpr":"datum.value % 2 === 0 ? (datum.value < 10 ? '0' : '') + datum.value + ':00' : ''","labelFlush":false,"labelOverlap":false,"labelPadding":18,"title":"time UT","titleFontSize":16,"titleFontWeight":"bold","titlePadding":0,"tickSize":{"condition":{"test":"datum.value % 2 === 0","value":-9},"value":-4}}},
    "x2":{"field":"b"},
    "y":{"field":"lo","type":"quantitative","scale":{"domain":[2,35],"nice":false,"zero":false},"axis":{"orient":"left","values":[2,3,4,5,6,7,8,9,10,11,12,13,14,15,16,17,18,19,20,21,22,23,24,25,26,27,28,29,30,31,32,33,34,35],"labelExpr":"datum.value % 5 === 0 ? '' + datum.value : ''","labelOverlap":false,"labelBaseline":{"condition":{"test":"datum.value === 35","value":"top"},"value":"middle"},"labelPadding":19,"title":null,"tickSize":{"condition":{"test":"datum.value % 5 === 0","value":-14},"value":-5}}},
    "y2":{"field":"hi"}}},
  {"data":{"name":"spikes"},"transform":[{"filter":"datum.p==4"}],"mark":{"type":"rule","color":"black","strokeWidth":1.2},
   "encoding":{
    "x":{"field":"t","type":"quantitative","scale":{"domain":[0,24],"nice":false,"zero":false},"axis":{"orient":"top","values":[0,0.5,1,1.5,2,2.5,3,3.5,4,4.5,5,5.5,6,6.5,7,7.5,8,8.5,9,9.5,10,10.5,11,11.5,12,12.5,13,13.5,14,14.5,15,15.5,16,16.5,17,17.5,18,18.5,19,19.5,20,20.5,21,21.5,22,22.5,23,23.5,24],"labels":false,"title":null,"tickSize":{"condition":{"test":"datum.value % 2 === 0","value":-9},"value":-4}}},
    "y":{"field":"lo","type":"quantitative","scale":{"domain":[2,35],"nice":false,"zero":false},"axis":{"orient":"right","values":[2,3,4,5,6,7,8,9,10,11,12,13,14,15,16,17,18,19,20,21,22,23,24,25,26,27,28,29,30,31,32,33,34,35],"labels":false,"title":"10 - 15 keV","titleAngle":270,"titleX":22,"titleY":50,"titleAlign":"center","titleBaseline":"middle","tickSize":{"condition":{"test":"datum.value % 5 === 0","value":-14},"value":-5}}},
    "y2":{"field":"hi"}}}
 ],
 "resolve":{"axis":{"x":"independent","y":"independent"}}
}
],
"spacing":0,
"bounds":"flush",
"config":{
 "font":"Liberation Sans",
 "view":{"stroke":null},
 "axis":{"domainColor":"black","domainWidth":2,"tickColor":"black","tickWidth":1.5,"labelFont":"Liberation Sans","labelFontSize":16,"labelFontWeight":"bold","labelColor":"black","labelFlush":false,"labelBound":false,"grid":false,"titleFont":"Liberation Sans","titleFontWeight":"normal","titleFontSize":20,"titleColor":"black"}
}
}
